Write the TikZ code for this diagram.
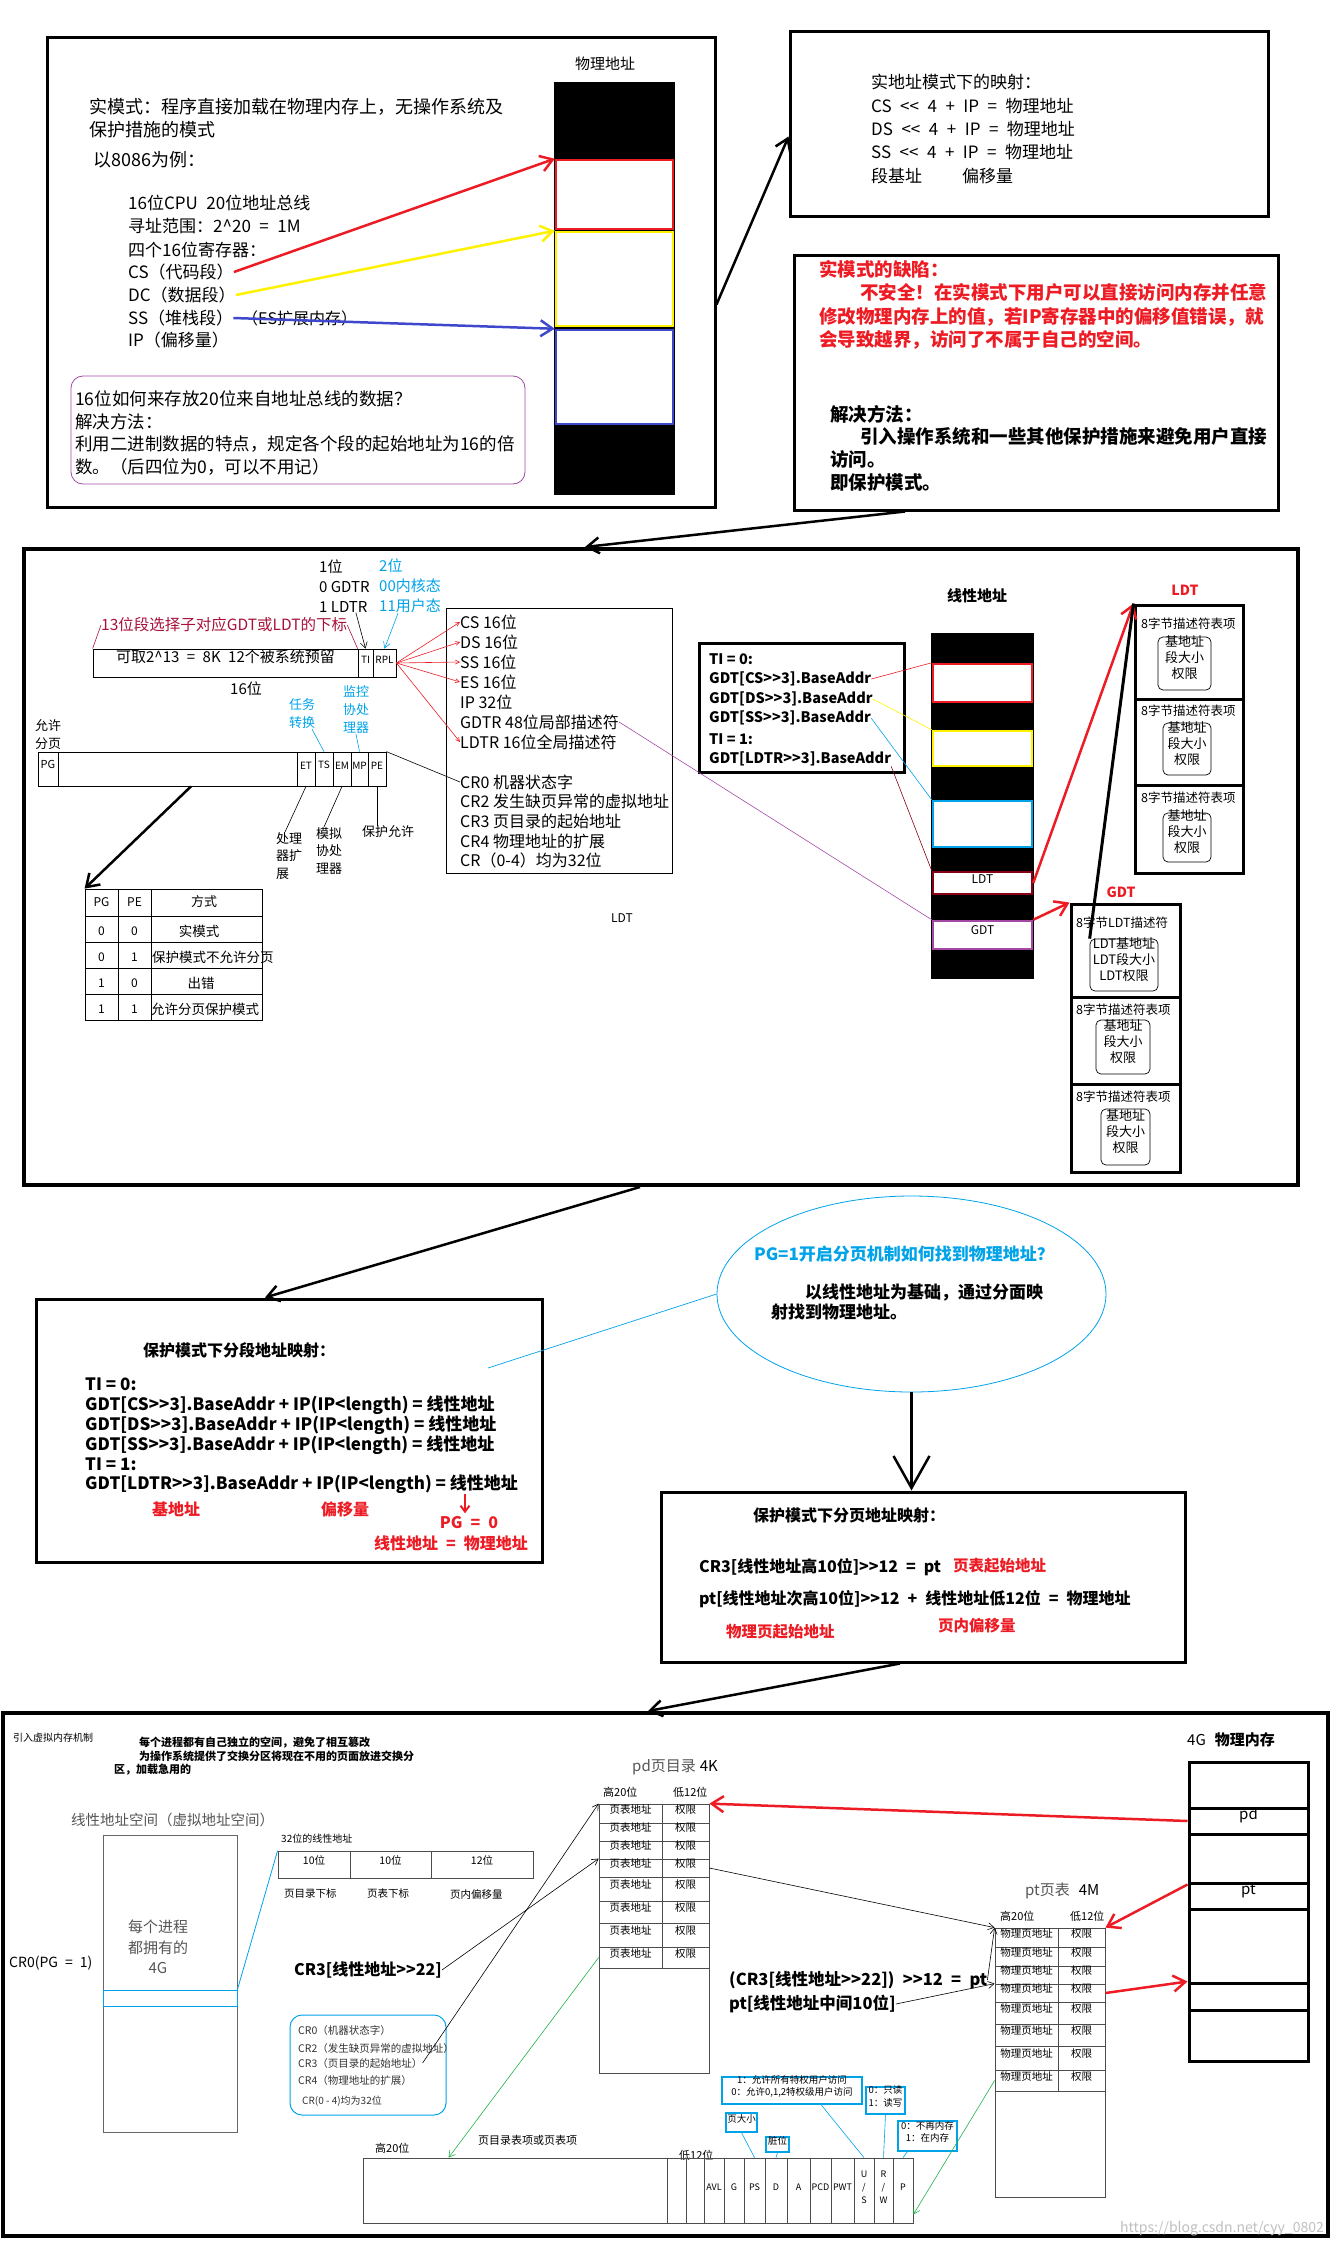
\documentclass[tikz,border=0pt]{standalone}
\usepackage{fontspec}
\setmainfont{Noto Sans CJK SC}
\usetikzlibrary{arrows.meta,positioning,fit,shapes.geometric}
\definecolor{PRed}{HTML}{ED1C24}
\definecolor{PYellow}{HTML}{FFF200}
\definecolor{PBlue}{HTML}{3F48CC}
\definecolor{PCyan}{HTML}{00A2E8}
\definecolor{PMaroon}{HTML}{880015}
\definecolor{PPurple}{HTML}{A349A4}
\definecolor{PGreen}{HTML}{22B14C}
\definecolor{SelRed}{HTML}{A8123A}
\definecolor{PGray}{HTML}{555555}
\newcommand{\fsz}[2]{\fontsize{#1}{#2}\selectfont}
\newcommand{\dgt}{>\kern0pt>}
\newcommand{\dlt}{<\kern0pt<}

\begin{document}
\begin{tikzpicture}[x=1pt,y=-1pt]
  \tikzset{
    frame/.style={draw,line width=3pt,inner sep=0pt},
    box/.style={draw,line width=0.8pt,inner sep=0pt},
    cell/.style={draw=black!70,line width=0.8pt,inner sep=0pt,font=\fsz{10.5}{12}},
    cbox/.style={draw=PCyan,line width=1.2pt,inner sep=0pt,align=left,font=\fsz{9.5}{12.5}},
    txt/.style={anchor=west,inner sep=0pt,align=left},
    seg/.style={fill=white,line width=2.5pt,inner sep=0pt},
    desc/.style={draw,rounded corners=5pt,line width=0.7pt,inner sep=0pt,align=left,font=\fsz{13}{16}},
    pen/.style={line width=2.5pt,-{Straight Barb[length=12pt,width=16pt]}},
    wire/.style={line width=0.6pt},
    thinarrow/.style={line width=0.6pt,-{Straight Barb[length=6pt,width=7pt]}}
  }
  \useasboundingbox (0,0) rectangle (1339,2250);

  % real mode
  \node[frame,fit={(47,38) (715,507)}] (rm) {};
  \node[fill=black,inner sep=0pt,fit={(554,82) (675,495)}] (phys) {};
  \node[seg,draw=PRed,fit={(556,160) (673,229)}] (pcs) {};
  \node[seg,draw=PYellow,fit={(556,232) (673,326)}] (pds) {};
  \node[seg,draw=PBlue,fit={(556,330) (673,424)}] (pss) {};
  \node[font=\fsz{15}{18}] (physlbl) at (605,64) {物理地址};
  \node[txt,font=\fsz{18}{23}] (rmdef) at (89,118) {实模式：程序直接加载在物理内存上，无操作系统及\\保护措施的模式};
  \node[txt,font=\fsz{18}{23}] (rmex) at (93,160) {以8086为例：};
  \node[txt,font=\fsz{17}{23.5}] (rmcpu) at (128,226) {16位CPU\enspace{}20位地址总线\\寻址范围：2\textasciicircum20\enspace=\enspace1M\\四个16位寄存器：};
  \node[txt,font=\fsz{17}{23}] (cs) at (128,272) {CS（代码段）};
  \node[txt,font=\fsz{17}{23}] (dc) at (128,295) {DC（数据段）};
  \node[txt,font=\fsz{17}{23}] (ss) at (128,318) {SS（堆栈段）};
  \node[txt,font=\fsz{16}{23}] (esx) at (242,318) {（ES扩展内存）};
  \node[txt,font=\fsz{17}{23}] (ipx) at (128,340) {IP（偏移量）};
  \draw[pen,PRed] (cs.east) -- (pcs.north west);
  \draw[pen,PYellow] (dc.east) -- (pds.north west);
  \draw[pen,PBlue] (ss.east) -- (pss.north west);
  \node[draw=PPurple,rounded corners=12pt,line width=0.8pt,inner sep=0pt,fit={(71,376) (525,484)}] (qbox) {};
  \node[txt,font=\fsz{17.5}{22.7}] (qtxt) at (75,433) {16位如何来存放20位来自地址总线的数据？\\解决方法：\\利用二进制数据的特点，规定各个段的起始地址为16的倍\\数。（后四位为0，可以不用记）};

  \node[frame,fit={(790,32) (1268,217)}] (rmap) {};
  \node[txt,font=\fsz{17}{23.3}] (maptxt) at (871,129) {实地址模式下的映射：\\CS\enspace\dlt\enspace4\enspace+\enspace{}IP\enspace=\enspace{}物理地址\\DS\enspace\dlt\enspace4\enspace+\enspace{}IP\enspace=\enspace{}物理地址\\SS\enspace\dlt\enspace4\enspace+\enspace{}IP\enspace=\enspace{}物理地址\\段基址\hspace{40pt}偏移量};
  \draw[pen] ([yshift=-32pt]rm.east) -- ([yshift=-12pt]rmap.west);

  \node[frame,fit={(794,256) (1278,510)}] (flawbox) {};
  \node[txt,font=\bfseries\fsz{18.5}{23.3},text=PRed] (flaw) at (819,305) {实模式的缺陷：\\\hspace*{41pt}不安全！在实模式下用户可以直接访问内存并任意\\修改物理内存上的值，若IP寄存器中的偏移值错误，就\\会导致越界，访问了不属于自己的空间。};
  \node[txt,font=\bfseries\fsz{18.5}{22.7}] (fix) at (830,448) {解决方法：\\\hspace*{30pt}引入操作系统和一些其他保护措施来避免用户直接\\访问。\\即保护模式。};

  % protected mode, segmentation
  \node[frame,line width=4pt,fit={(24,549) (1298,1185)}] (big) {};
  \draw[pen] ([xshift=-131pt]flawbox.south) -- ([xshift=-76pt]big.north);

  \node[txt,font=\fsz{15}{20}] (bit1) at (319,586) {1位\\0 GDTR\\1 LDTR};
  \node[txt,font=\fsz{15}{20},text=PCyan] (rpl2) at (379,586) {2位\\00内核态\\11用户态};
  \node[txt,font=\fsz{15.5}{18},text=SelRed] (sellbl) at (101,625) {13位段选择子对应GDT或LDT的下标};
  \node[box,fit={(93,649) (358,677)},font=\fsz{15}{18}] (selidx) {可取2\textasciicircum13\enspace=\enspace8K\enspace{}12个被系统预留};
  \node[box,fit={(358,649) (373,677)},font=\fsz{10}{12}] (ti) {TI};
  \node[box,fit={(373,649) (396,677)},font=\fsz{10}{12}] (rpl) {RPL};
  \node[font=\fsz{15}{18}] (sel16) at (246,689) {16位};
  \draw[SelRed,wire] (sellbl.west) -- (selidx.north west);
  \draw[SelRed,wire] (sellbl.east) -- (ti.north west);
  \draw[thinarrow] ([xshift=-14pt]bit1.south east) -- (ti.north);
  \draw[thinarrow,PCyan] ([xshift=-12pt]rpl2.south) -- (rpl.north);

  \node[box,fit={(446,608) (672,873)}] (reg) {};
  \foreach \nm/\yy/\tx in {rcs/622/CS 16位, rds/642/DS 16位, rss/662/SS 16位, res/682/ES 16位,
      rip/702/IP 32位, rgdtr/722/GDTR 48位局部描述符, rldtr/742/LDTR 16位全局描述符,
      rcr0/782/CR0 机器状态字, rcr2/801/CR2 发生缺页异常的虚拟地址, rcr3/821/CR3 页目录的起始地址,
      rcr4/841/CR4 物理地址的扩展, rcrall/860/CR（0-4）均为32位}
    \node[txt,font=\fsz{16}{18}] (\nm) at (460,\yy) {\tx};
  \foreach \r in {rcs,rds,rss,res,rldtr}
    \draw[PRed,wire,-{Straight Barb[length=4pt,width=4pt]}] (rpl.east) -- (\r.west);

  % CR0 bits
  \node[box,fit={(38,752) (58,786)},font=\fsz{11}{13}] (bpg) {PG};
  \node[box,fit={(58,752) (297,786)}] (cr0body) {};
  \foreach \nm/\a/\b/\tx in {bet/297/315/ET, bts/315/333/TS, bem/333/351/EM, bmp/351/368/MP, bpe/368/386/PE}
    \node[box,fit={(\a,752) (\b,786)},font=\fsz{10}{12}] (\nm) {\tx};
  \node[font=\fsz{13}{18},align=center,inner sep=0pt] (allowpg) at (48,735) {允许\\分页};
  \node[font=\fsz{13}{18},align=center,inner sep=0pt,text=PCyan] (task) at (302,714) {任务\\转换};
  \node[font=\fsz{13}{18},align=center,inner sep=0pt,text=PCyan] (mon) at (356,710) {监控\\协处\\理器};
  \node[anchor=north west,inner sep=0pt,align=left,font=\fsz{13}{17.5}] (procx) at (276,832) {处理\\器扩\\展};
  \node[anchor=north west,inner sep=0pt,align=left,font=\fsz{13}{17.5}] (emux) at (316,827) {模拟\\协处\\理器};
  \node[txt,font=\fsz{13}{16}] (protx) at (362,832) {保护允许};
  \draw[PCyan,wire] ([xshift=10pt]task.south) -- (bts.north);
  \draw[PCyan,wire] (mon.south) -- (bmp.north);
  \draw[wire] (bet.south) -- ([xshift=9pt]procx.north west);
  \draw[wire] (bem.south) -- ([xshift=8pt]emux.north west);
  \draw[wire] (bpe.south) -- (bpe.south |- protx.north);
  \draw[wire] (bpe.north east) -- (rcr0.west);

  % PG/PE table
  \node[box,fit={(85,889) (262,1020)}] (modes) {};
  \foreach \yy in {916,942,968,994}
    \draw[line width=0.8pt] (85,\yy) -- (262,\yy);
  \draw[line width=0.8pt] (118,889) -- (118,1020) (151,889) -- (151,1020);
  \draw[pen] ([xshift=13.5pt]cr0body.south) -- (modes.north west);
  \node[font=\fsz{12}{14}] at (101.5,902) {PG};
  \node[font=\fsz{12}{14}] at (134.5,902) {PE};
  \node[font=\fsz{13}{14}] at (204,902) {方式};
  \foreach \pg/\pe/\yy in {0/0/931, 0/1/957, 1/0/983, 1/1/1009} {
    \node[font=\fsz{12}{14}] at (101.5,\yy) {\pg};
    \node[font=\fsz{12}{14}] at (134.5,\yy) {\pe};
  }
  \node[font=\fsz{13.5}{16}] at (199,931) {实模式};
  \node[txt,font=\fsz{13.5}{16}] at (152,957) {保护模式不允许分页};
  \node[font=\fsz{13.5}{16}] at (201,983) {出错};
  \node[txt,font=\fsz{13.5}{16}] at (151,1009) {允许分页保护模式};

  % linear address column
  \node[font=\bfseries\fsz{15}{18}] (linlbl) at (977,596) {线性地址};
  \node[fill=black,inner sep=0pt,fit={(931,633) (1034,979)}] (lincol) {};
  \node[seg,draw=PRed,fit={(933,664) (1032,702)}] (lcs) {};
  \node[seg,draw=PYellow,fit={(933,731) (1032,766)}] (lds) {};
  \node[seg,draw=PCyan,fit={(933,801) (1032,847)}] (lss) {};
  \node[seg,draw=PMaroon,fit={(933,872) (1032,894)},font=\fsz{12}{14}] (lldt) {LDT};
  \node[seg,draw=PPurple,fit={(933,921) (1032,949)},font=\fsz{12}{14}] (lgdt) {GDT};
  \node[font=\fsz{12}{14}] (ldtnote) at (622,918) {LDT};

  \node[frame,fit={(699,643) (904,772)}] (tibox) {};
  \node[txt,font=\bfseries\fsz{14.5}{20}] (ti0) at (709,659) {TI = 0:};
  \node[txt,font=\bfseries\fsz{14.5}{20}] (tcs) at (709,679) {GDT[CS\dgt3].BaseAddr};
  \node[txt,font=\bfseries\fsz{14.5}{20}] (tds) at (709,699) {GDT[DS\dgt3].BaseAddr};
  \node[txt,font=\bfseries\fsz{14.5}{20}] (tss) at (709,718) {GDT[SS\dgt3].BaseAddr};
  \node[txt,font=\bfseries\fsz{14.5}{20}] (ti1) at (709,739) {TI = 1:};
  \node[txt,font=\bfseries\fsz{14.5}{20}] (tldtr) at (709,759) {GDT[LDTR\dgt3].BaseAddr};
  \draw[PRed,wire] (tcs.east) -- (lcs.north west);
  \draw[PYellow,wire] (tds.east) -- (lds.north west);
  \draw[PCyan,wire] (tss.east) -- (lss.north west);
  \draw[PMaroon,wire] (tldtr.south east) -- (lldt.north west);
  \draw[PPurple,wire] (rgdtr.east) -- (lgdt.north west);

  % LDT and GDT
  \node[font=\bfseries\fsz{14}{16},text=PRed] (ldtlbl) at (1185,590) {LDT};
  \node[frame,fit={(1135,605) (1243,699)}] (ldt1) {};
  \node[frame,fit={(1135,699) (1243,785)}] (ldt2) {};
  \node[frame,fit={(1135,785) (1243,873)}] (ldt3) {};
  \foreach \hy/\ya/\yb/\xa [count=\i] in {624/637/690/1158, 711/723/775/1163, 798/813/862/1163} {
    \node[txt,font=\fsz{12.5}{15}] at (1141,\hy) {8字节描述符表项};
    \node[desc,fit={(\xa,\ya) (1211,\yb)}] (ldtd\i) {基地址\\段大小\\权限};
  }
  \node[font=\bfseries\fsz{14}{16},text=PRed] (gdtlbl) at (1121,892) {GDT};
  \node[frame,fit={(1071,904) (1180,997)}] (gdt1) {};
  \node[frame,fit={(1071,997) (1180,1084)}] (gdt2) {};
  \node[frame,fit={(1071,1084) (1180,1172)}] (gdt3) {};
  \node[txt,font=\fsz{12.5}{15}] at (1076,923) {8字节LDT描述符};
  \node[desc,fit={(1090,939) (1158,991)}] (gdtd1) {LDT基地址\\LDT段大小\\LDT权限};
  \foreach \hy/\ya/\yb/\xa [count=\i from 2] in {1010/1020/1074/1096, 1097/1109/1165/1101} {
    \node[txt,font=\fsz{12.5}{15}] at (1076,\hy) {8字节描述符表项};
    \node[desc,fit={(\xa,\ya) (1150,\yb)}] (gdtd\i) {基地址\\段大小\\权限};
  }
  \draw[pen,PRed] (lldt.east) -- (ldt1.north west);
  \draw[pen,PRed] (lgdt.north east) -- (gdt1.north west);
  \draw[line width=3pt] (gdtd1.north west) -- (ldt1.north west);

  % segment mapping
  \node[frame,fit={(36,1299) (542,1562)}] (segmap) {};
  \draw[pen] ([xshift=-21pt]big.south) -- ([xshift=-24pt]segmap.north);
  \node[txt,font=\bfseries\fsz{16}{18}] (segttl) at (143,1350) {保护模式下分段地址映射：};
  \node[txt,font=\bfseries\fsz{17}{20}] (segtxt) at (85,1424) {TI = 0:\\GDT[CS\dgt3].BaseAddr + IP(IP<length) = 线性地址\\GDT[DS\dgt3].BaseAddr + IP(IP<length) = 线性地址\\GDT[SS\dgt3].BaseAddr + IP(IP<length) = 线性地址\\TI = 1:};
  \node[txt,font=\bfseries\fsz{17}{20}] (sldtr) at (85,1484) {GDT[LDTR\dgt3].BaseAddr + IP(IP<length) = 线性地址};
  \node[font=\bfseries\fsz{16}{18},text=PRed] (segbase) at (176,1509) {基地址};
  \node[font=\bfseries\fsz{16}{18},text=PRed] (segoff) at (345,1509) {偏移量};
  \node[font=\bfseries\fsz{16}{18},text=PRed] (pg0) at (469,1523) {PG\enspace=\enspace0};
  \node[font=\bfseries\fsz{16}{18},text=PRed] (lineq) at (451,1543) {线性地址\enspace=\enspace{}物理地址};
  \draw[PRed,line width=2pt,-{Straight Barb[length=6pt,width=9pt]}] ([xshift=-4pt]pg0.north |- sldtr.south) -- ([xshift=-4pt]pg0.north);

  % paging question
  \node[draw=PCyan,ellipse,line width=0.8pt,minimum width=389pt,minimum height=196pt,inner sep=0pt] (pgq) at (911.5,1294) {};
  \node[font=\bfseries\fsz{17}{20},text=PCyan] (pgqa) at (904,1254) {PG=1开启分页机制如何找到物理地址？};
  \node[txt,font=\bfseries\fsz{17}{20}] (pgqb) at (805,1292) {以线性地址为基础，通过分面映};
  \node[txt,font=\bfseries\fsz{17}{20}] (pgqc) at (771,1312) {射找到物理地址。};
  \coordinate (segfoot) at (488,1368);
  \draw[PCyan,line width=0.7pt] (segfoot) -- (pgq.west);

  \node[frame,fit={(661,1492) (1185,1662)}] (pagemap) {};
  \draw[line width=2.5pt,-{Straight Barb[length=32pt,width=36pt]}] (pgq.south) -- (pgq.south |- pagemap.north);
  \node[txt,font=\bfseries\fsz{16}{18}] (pagettl) at (753,1515) {保护模式下分页地址映射：};
  \node[txt,font=\bfseries\fsz{16}{18}] (pcr3) at (699,1567) {CR3[线性地址高10位]\dgt12\enspace=\enspace{}pt};
  \node[txt,font=\bfseries\fsz{15.5}{18},text=PRed] (ptstart) at (953,1566) {页表起始地址};
  \node[txt,font=\bfseries\fsz{16}{18}] (pphys) at (699,1599) {pt[线性地址次高10位]\dgt12\enspace+\enspace{}线性地址低12位\enspace=\enspace{}物理地址};
  \node[txt,font=\bfseries\fsz{15.5}{18},text=PRed] (ppage) at (726,1632) {物理页起始地址};
  \node[txt,font=\bfseries\fsz{15.5}{18},text=PRed] (poff) at (938,1626) {页内偏移量};

  % virtual memory
  \node[frame,line width=4pt,fit={(3,1713) (1328,2236)}] (vm) {};
  \draw[pen] ([xshift=-23pt]pagemap.south) -- ([xshift=-17.5pt]vm.north);
  \node[txt,font=\fsz{10}{12}] (vmintro) at (13,1738) {引入虚拟内存机制};
  \node[txt,font=\bfseries\fsz{11}{13.5}] (vmwhy) at (114,1756.5) {\hspace*{25pt}每个进程都有自己独立的空间，避免了相互篡改\\\hspace*{25pt}为操作系统提供了交换分区将现在不用的页面放进交换分\\区，加载急用的};
  \node[txt,font=\fsz{14.5}{17},text=PGray] (vspacelbl) at (71,1820) {线性地址空间（虚拟地址空间）};
  \node[draw=black!60,line width=0.8pt,inner sep=0pt,fit={(103,1835) (237,2132)}] (vspace) {};
  \node[draw=PCyan,line width=0.8pt,inner sep=0pt,fit={(103,1990) (237,2006)}] (band) {};
  \node[font=\fsz{15}{20.5},align=center,text=PGray] (vspacetxt) at (158,1947) {每个进程\\都拥有的\\4G};
  \node[txt,font=\fsz{14}{16}] (cr0pg) at (9,1963) {CR0(PG\enspace=\enspace1)};

  \node[txt,font=\fsz{10}{12}] (laddrlbl) at (281,1839) {32位的线性地址};
  \node[cell,fit={(278,1851) (350,1878)}] (lb1) {10位};
  \node[cell,fit={(350,1851) (431,1878)}] (lb2) {10位};
  \node[cell,fit={(431,1851) (533,1878)}] (lb3) {12位};
  \node[txt,font=\fsz{10.5}{12}] at (284,1894) {页目录下标};
  \node[txt,font=\fsz{10.5}{12}] at (367,1894) {页表下标};
  \node[txt,font=\fsz{10.5}{12}] at (450,1894) {页内偏移量};
  \draw[PCyan,line width=0.8pt] (band.north east) -- (lb1.north west);
  \node[txt,font=\bfseries\fsz{16}{18}] (cr3idx) at (294,1970) {CR3[线性地址\dgt22]};

  \node[draw=PCyan,rounded corners=12pt,line width=1pt,inner sep=0pt,fit={(290,2015) (446,2115)}] (crbox) {};
  \node[txt,font=\fsz{10.5}{12},text=black!80] (crcr0) at (298,2030) {CR0（机器状态字）};
  \node[txt,font=\fsz{10.5}{12},text=black!80] (crcr2) at (298,2048) {CR2（发生缺页异常的虚拟地址）};
  \node[txt,font=\fsz{10.5}{12},text=black!80] (craddr) at (298,2063) {CR3（页目录的起始地址）};
  \node[txt,font=\fsz{10.5}{12},text=black!80] (crcr4) at (298,2080) {CR4（物理地址的扩展）};
  \node[txt,font=\fsz{10}{12},text=black!80] (crall) at (302,2101) {CR(0 - 4)均为32位};

  % page directory
  \node[txt,font=\fsz{15}{18}] (pdlbl) at (632,1767) {\textcolor{PGray}{pd页目录}\hspace{4pt}4K};
  \node[txt,font=\fsz{11}{13}] at (603,1792) {高20位};
  \node[txt,font=\fsz{11}{13}] at (673,1792) {低12位};
  \node[cell,fit={(599,1804) (709,2073)}] (pd) {};
  \foreach \ya/\yb [count=\i] in {1804/1823,1823/1841,1841/1859,1859/1877,1877/1901,1901/1923,1923/1947,1947/1968} {
    \node[cell,fit={(599,\ya) (662,\yb)}] (pda\i) {页表地址};
    \node[cell,fit={(662,\ya) (709,\yb)}] (pdb\i) {权限};
  }

  % page table
  \node[txt,font=\fsz{15}{18}] (ptlbl) at (1025,1891) {\textcolor{PGray}{pt页表}\hspace{9pt}4M};
  \node[txt,font=\fsz{11}{13}] at (1000,1916) {高20位};
  \node[txt,font=\fsz{11}{13}] at (1070,1916) {低12位};
  \node[cell,fit={(995,1928) (1105,2197)}] (pt) {};
  \foreach \ya/\yb [count=\i] in {1928/1947,1947/1966,1966/1984,1984/2002,2002/2024,2024/2046,2046/2070,2070/2091} {
    \node[cell,fit={(995,\ya) (1058,\yb)}] (pta\i) {物理页地址};
    \node[cell,fit={(1058,\ya) (1105,\yb)}] (ptb\i) {权限};
  }
  \node[txt,font=\bfseries\fsz{16.5}{18}] (ptexpr) at (729,1980) {(CR3[线性地址\dgt22])\enspace\dgt12\enspace=\enspace{}pt};
  \node[txt,font=\bfseries\fsz{16.5}{18}] (ptmid) at (729,2004) {pt[线性地址中间10位]};

  % physical memory
  \node[txt,font=\fsz{15}{18}] (memlbl) at (1187,1740) {4G\hspace{9pt}\textbf{物理内存}};
  \foreach \ya/\yb/\nm/\tx in {1762/1808/mem1/{}, 1808/1834/mpd/pd, 1834/1883/mem3/{}, 1883/1909/mpt/pt, 1909/1983/mem5/{}, 1983/2010/mem6/{}, 2010/2061/mem7/{}}
    \node[frame,fit={(1189,\ya) (1308,\yb)},font=\fsz{15}{18}] (\nm) {\tx};

  % page entry bits
  \node[txt,font=\fsz{11}{13}] at (375,2148) {高20位};
  \node[txt,font=\fsz{11}{13}] at (478,2140) {页目录表项或页表项};
  \node[txt,font=\fsz{11}{13}] at (679,2155) {低12位};
  \node[cell,fit={(363,2158) (667,2223)}] (ehi) {};
  \foreach \a/\b/\tx [count=\i] in {667/686/{}, 686/704/{}, 704/724/AVL, 724/744/G, 744/765/PS, 765/787/D, 787/810/A, 810/831/PCD, 831/854/PWT, 854/874/{U\\/\\S}, 874/893/{R\\/\\W}, 893/913/P}
    \node[cell,align=center,font=\fsz{9}{13},fit={(\a,2158) (\b,2223)}] (ec\i) {\tx};
  \node[cbox,fit={(722,2077) (862,2104)}] (usbox) {1：允许所有特权用户访问\\0：允许0,1,2特权级用户访问};
  \node[cbox,fit={(866,2087) (905,2114)}] (rwbox) {0：只读\\1：读写};
  \node[cbox,fit={(726,2113) (757,2132)}] (psbox) {页大小};
  \node[cbox,fit={(766,2137) (789,2152)}] (dbox) {脏位};
  \node[cbox,fit={(898,2121) (957,2151)}] (pbox) {0：不再内存\\1：在内存};
  \draw[PCyan,wire] ([xshift=29pt]usbox.south) -- (ec10.north);
  \draw[PCyan,wire] (rwbox.south) -- (ec11.north);
  \draw[PCyan,wire] (psbox.south) -- (ec5.north);
  \draw[PCyan,wire] (dbox.south) -- (ec6.north);
  \draw[PCyan,wire] ([xshift=10pt]pbox.south west) -- (ec12.north);

  % connectors of the paging part
  \draw[thinarrow] (cr3idx.east) -- (pda4.north west);
  \draw[thinarrow] (craddr.east) -- (pda1.north west);
  \draw[thinarrow] (pdb4.east) -- (pta1.north west);
  \draw[thinarrow] (ptexpr.east) -- (pta1.north west);
  \draw[thinarrow] (ptmid.east) -- (pta4.north west);
  \draw[thinarrow,PGreen] (pda8.west) -- ([xshift=86pt]ehi.north west);
  \draw[thinarrow,PGreen] (pta8.west) -- ([yshift=9pt]ec12.south east);
  \draw[pen,PRed] (mpd.west) -- (pdb1.north east);
  \draw[pen,PRed] ([yshift=-3pt]mpt.north west) -- (ptb1.north east);
  \draw[pen,PRed] (ptb4.east) -- (mem6.north west);

  \node[font=\fsz{14}{16},text=black!25] (wmark) at (1222,2229) {https://blog.csdn.net/cyy\_0802};
\end{tikzpicture}
\end{document}
